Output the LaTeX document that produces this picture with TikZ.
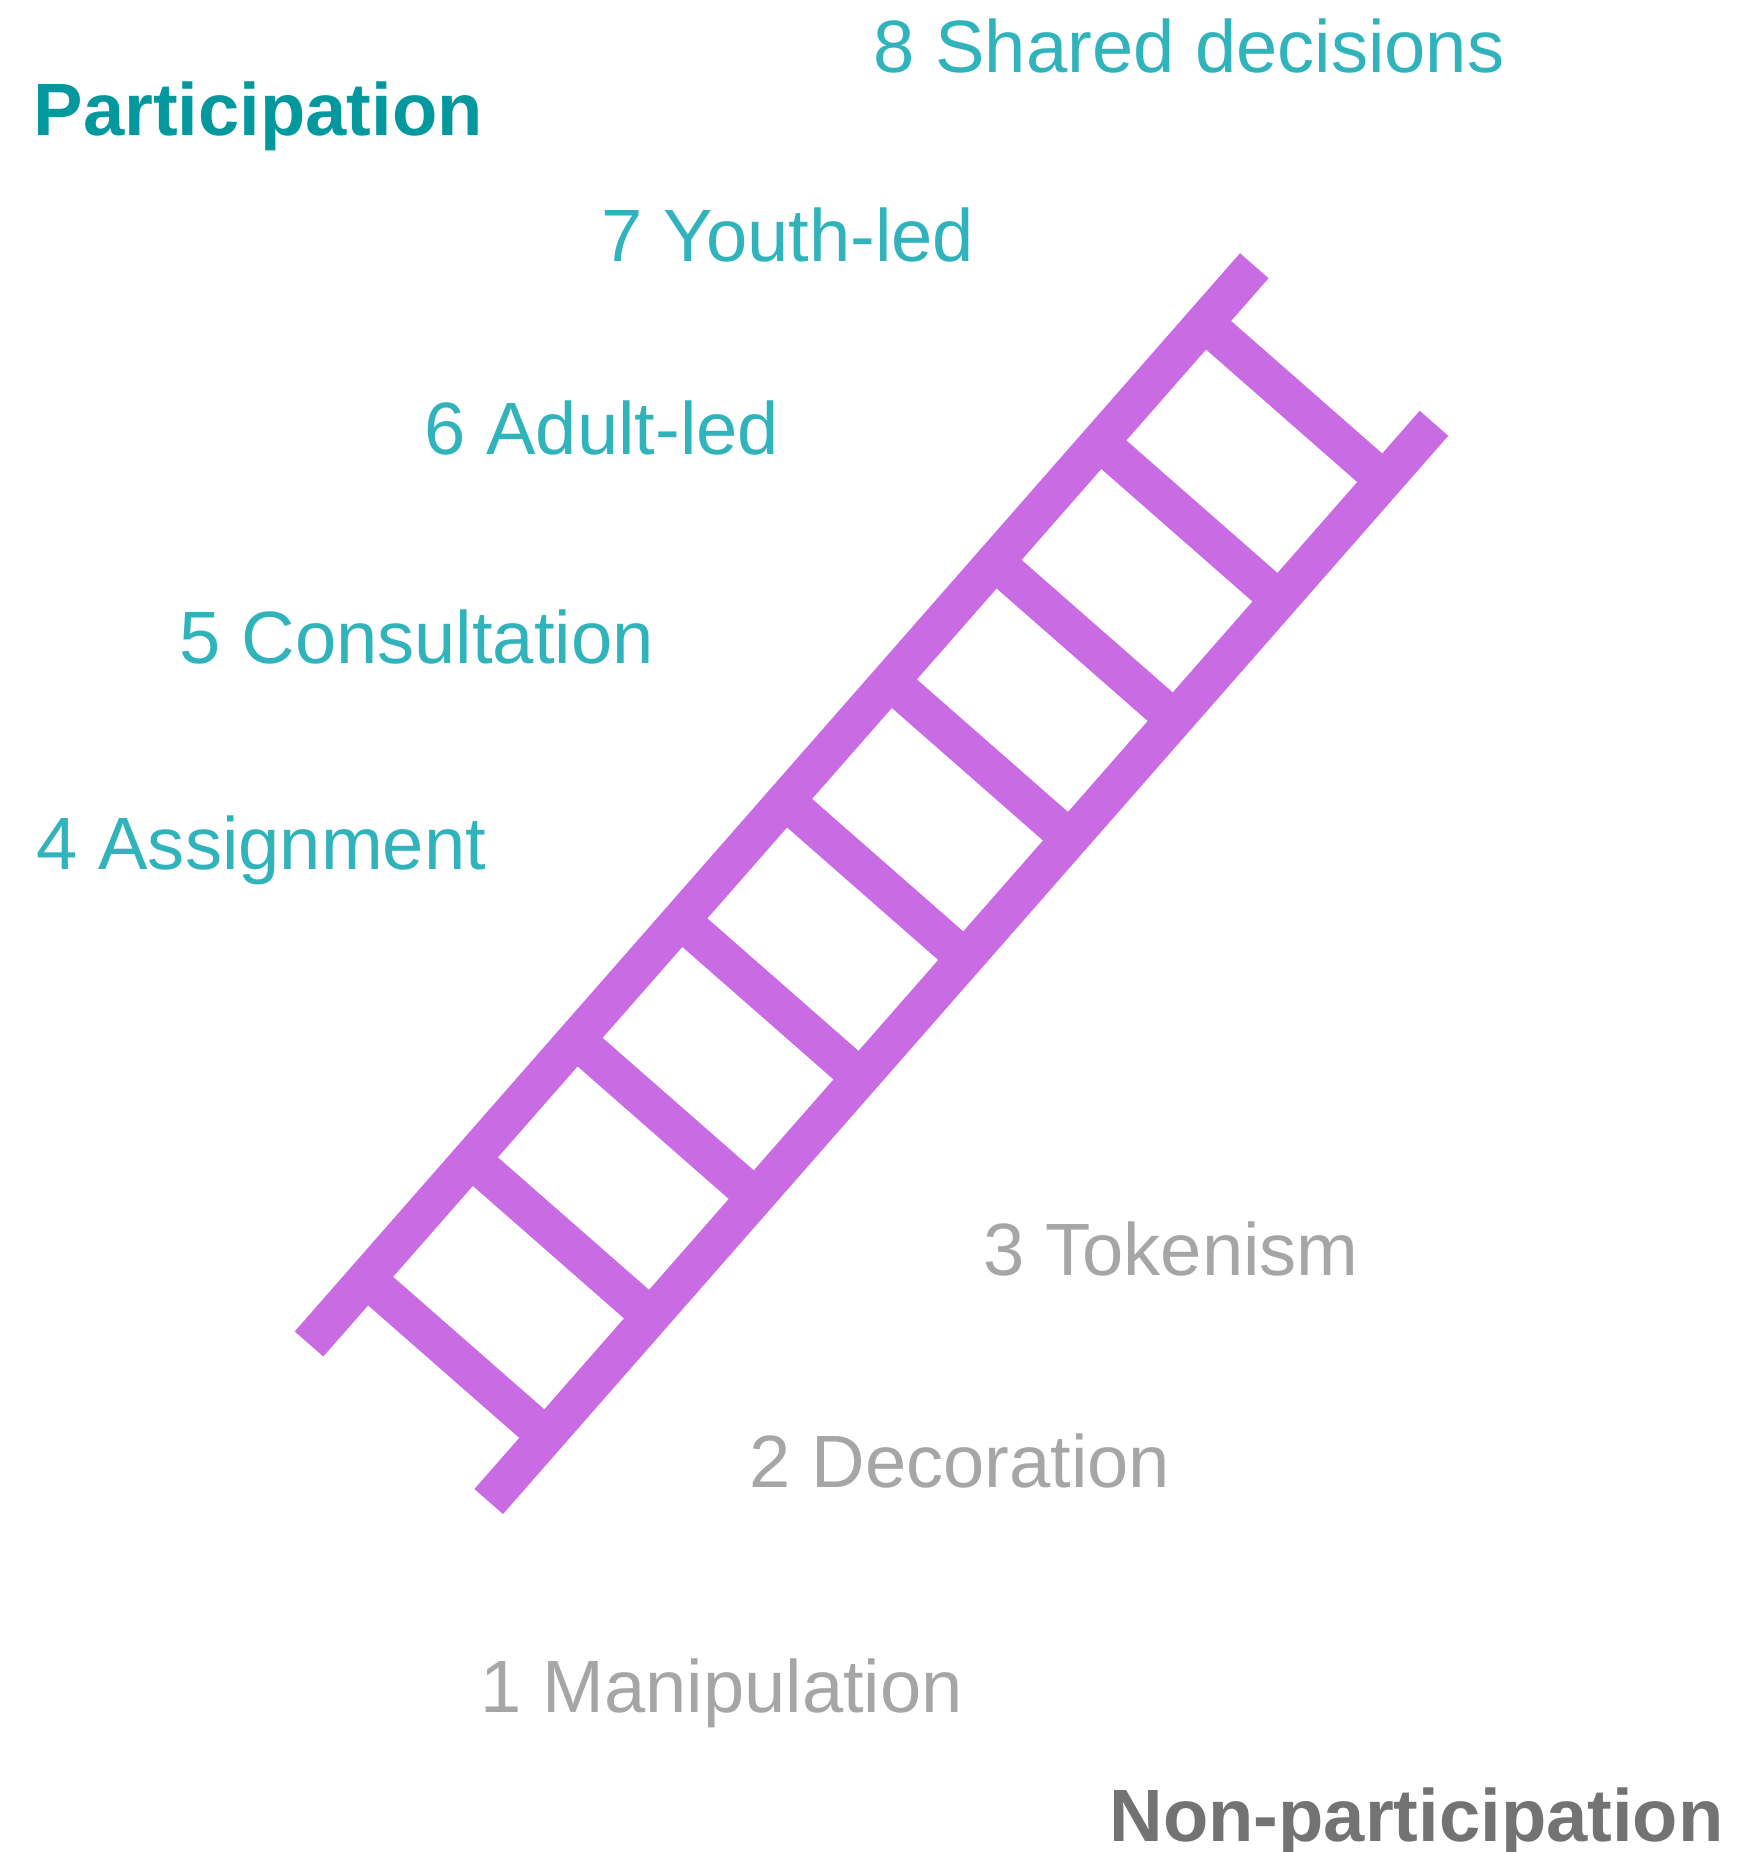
\documentclass[tikz,border=0pt]{standalone}
\usepackage{fontspec}
\setmainfont{Liberation Sans}
\usepackage{xcolor}
\usetikzlibrary{positioning}

\definecolor{ladder}{HTML}{C96CE4}
\definecolor{upper}{HTML}{31B3BC}
\definecolor{upperhead}{HTML}{03989E}
\definecolor{lower}{HTML}{A6A6A6}
\definecolor{lowerhead}{HTML}{737373}

\tikzset{
	rail/.style={draw=ladder, line width=3.8mm},
	level/.style={anchor=base west, inner sep=0pt, font=\fontsize{21.1}{25}\selectfont},
	heading/.style={level, font=\fontsize{21.1}{25}\selectfont\bfseries},
}

\begin{document}
\begin{tikzpicture}

\useasboundingbox (0,0) rectangle (17.48,18.52);

% the ladder, drawn along its own axis
\begin{scope}[shift={(3.09,5.08)}, rotate=48.76]
	\draw [rail] (0,0) -- (14.34,0);
	\draw [rail] (0,-2.39) -- (14.34,-2.39);
	\foreach \i in {0,...,8}
		\draw [rail] (0.87+1.589*\i,0) -- (0.87+1.589*\i,-2.39);
\end{scope}

\node [heading, text=upperhead] (part) at (0.33,17.16) {Participation};

\node [level, text=upper] (l8) at (8.73,17.79) {8 Shared decisions};
\node [level, text=upper] (l7) at (6.01,15.90) {7 Youth-led};
\node [level, text=upper] (l6) at (4.24,13.97) {6 Adult-led};
\node [level, text=upper] (l5) at (1.79,11.88) {5 Consultation};
\node [level, text=upper] (l4) at (0.36,9.82) {4 Assignment};

\node [level, text=lower] (l3) at (9.83,5.76) {3 Tokenism};
\node [level, text=lower] (l2) at (7.49,3.64) {2 Decoration};
\node [level, text=lower] (l1) at (4.80,1.39) {1 Manipulation};

\node [heading, text=lowerhead] (nonpart) at (11.09,0.10) {Non-participation};

\end{tikzpicture}
\end{document}
